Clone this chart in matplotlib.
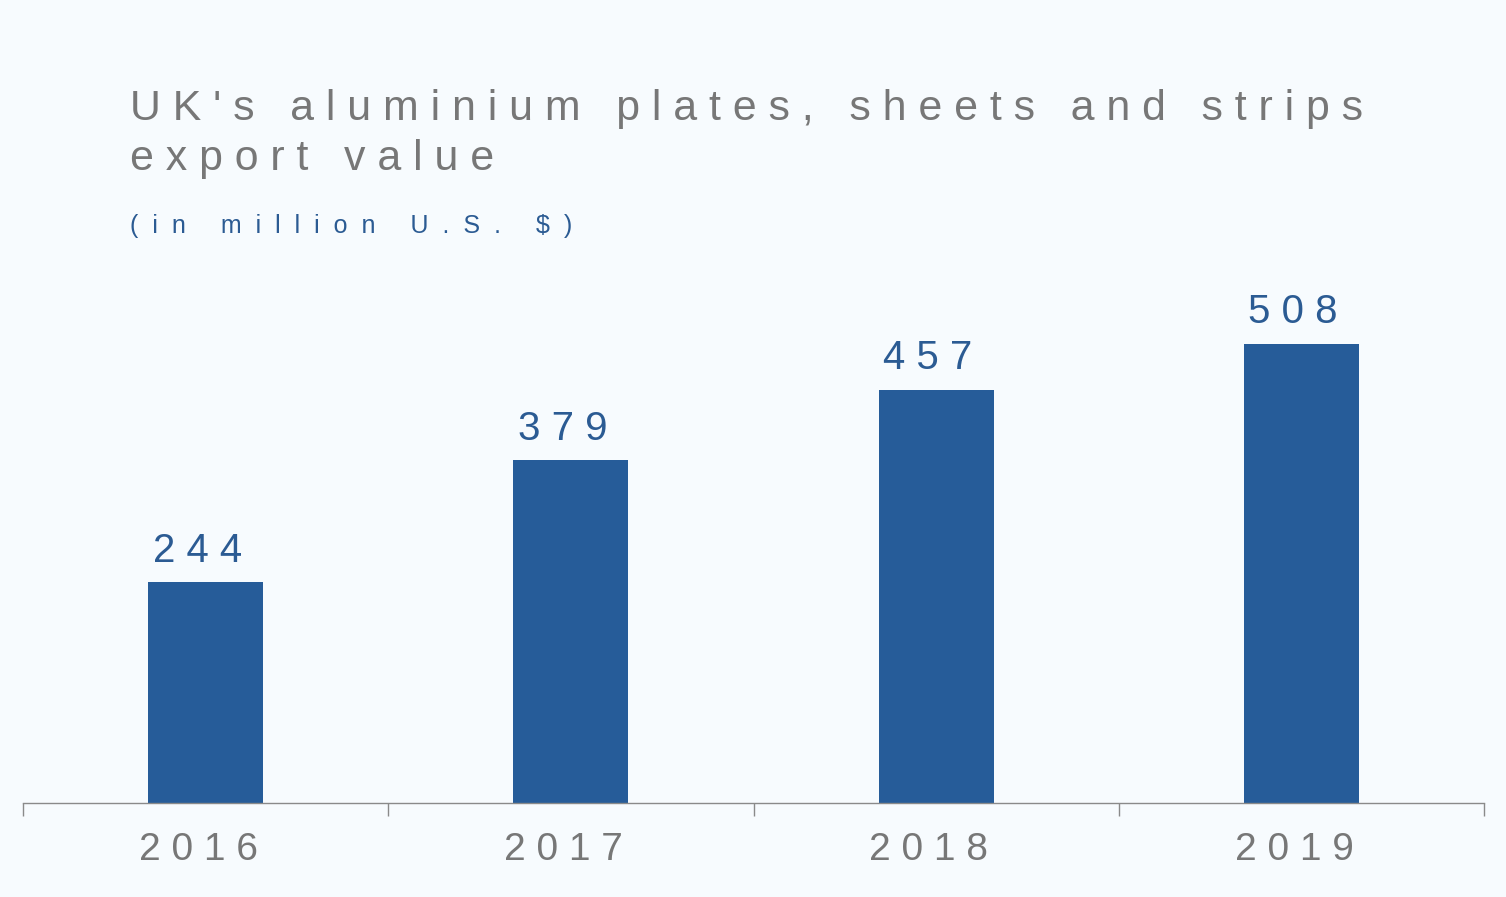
import matplotlib
matplotlib.use("Agg")
import matplotlib.pyplot as plt

years = ["2016", "2017", "2018", "2019"]
values = [244, 379, 457, 508]
title_lines = ["UK's aluminium plates, sheets and strips", "export value"]
subtitle = "(in million U.S. $)"

BG = "#F7FBFE"
BAR = "#265C99"
GRAY = "#777777"
BLUE = "#2B5B93"

def spaced(s, sep=" "):
    return sep.join(list(s))

plt.rcParams['font.family'] = ['Liberation Sans', 'DejaVu Sans']

W, H = 1506, 897
fig = plt.figure(figsize=(W / 100, H / 100), dpi=100, facecolor=BG)
ax = fig.add_axes([23 / W, (H - 803) / H, (1484 - 23) / W, (803 - 270) / H])
ax.set_facecolor(BG)

x = list(range(len(years)))
ax.bar(x, values, width=0.315, color=BAR, zorder=2)
ax.set_xlim(-0.5, len(years) - 0.5)
ax.set_ylim(0, 533 / 0.9045)

for xi, v in zip(x, values):
    ax.annotate(spaced(str(v)), (xi, v), xytext=(-6, 9), textcoords="offset points",
                ha="center", va="bottom", fontsize=29, color=BLUE)

for s in ["top", "right", "left"]:
    ax.spines[s].set_visible(False)
ax.spines["bottom"].set_color("#8A8A8A")
ax.spines["bottom"].set_linewidth(1.0)
ax.set_yticks([])
ax.set_xticks([i - 0.5 for i in range(len(years) + 1)])
ax.set_xticklabels([])
ax.tick_params(axis="x", length=9, color="#8A8A8A", width=1.0, direction="out")
for xi, yr in zip(x, years):
    ax.text(xi - 0.02, -0.055, spaced(yr), transform=ax.get_xaxis_transform(),
            ha="center", va="top", fontsize=28, color=GRAY)

fig.text(130 / W, 1 - 120 / H, spaced(title_lines[0]), fontsize=30.9, color=GRAY,
         ha="left", va="baseline")
fig.text(130 / W, 1 - 170 / H, spaced(title_lines[1]), fontsize=30.9, color=GRAY,
         ha="left", va="baseline")
fig.text(130 / W, 1 - 233 / H, spaced(subtitle, "  "), fontsize=18, color=BLUE,
         ha="left", va="baseline")

fig.savefig("out.png", dpi=100, facecolor=BG)
